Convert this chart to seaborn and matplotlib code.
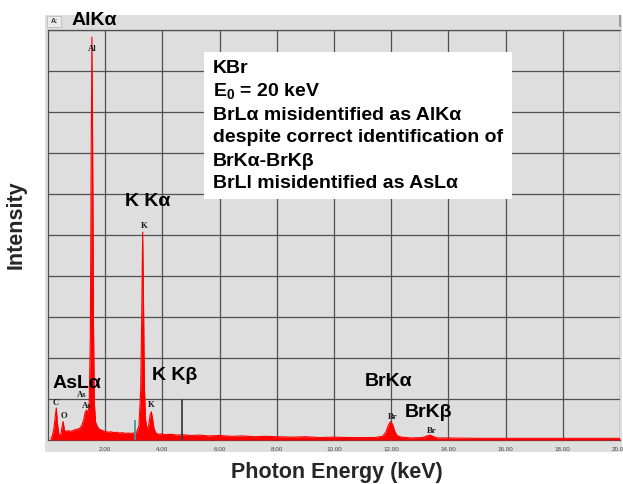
import matplotlib
matplotlib.use("Agg")
import matplotlib.pyplot as plt
import numpy as np
import pandas as pd
import seaborn as sns
from matplotlib.patches import Rectangle

# EDS spectrum of KBr at E0 = 20 keV (intensity in % of full scale)
energy = [0.10, 0.15, 0.20, 0.25, 0.29, 0.33, 0.38, 0.45, 0.50, 0.53,
          0.57, 0.62, 0.70, 0.80, 0.90, 1.00, 1.10, 1.18, 1.25, 1.30,
          1.35, 1.40, 1.44, 1.48, 1.51, 1.535, 1.56, 1.59, 1.62, 1.66,
          1.72, 1.80, 1.90, 2.00, 2.10, 2.20, 2.30, 2.40, 2.50, 2.60,
          2.70, 2.80, 2.90, 3.00, 3.10, 3.18, 3.24, 3.28, 3.31, 3.34,
          3.37, 3.41, 3.47, 3.52, 3.57, 3.61, 3.65, 3.70, 3.76, 3.85,
          3.95, 4.10, 4.30, 4.50, 4.70, 5.00, 5.30, 5.60, 6.00, 6.40,
          6.80, 7.20, 7.60, 8.00, 8.50, 9.00, 9.50, 10.00, 10.50, 11.00,
          11.40, 11.70, 11.82, 11.90, 11.98, 12.05, 12.12, 12.20, 12.35, 12.70,
          13.10, 13.25, 13.36, 13.45, 13.60, 14.00, 15.00, 16.00, 17.00, 18.00,
          19.00, 20.00]
intensity = [0.3, 1.0, 2.5, 5.5, 7.8, 4.0, 1.2, 1.5, 3.5, 4.5,
             2.5, 2.0, 2.3, 2.1, 2.4, 2.6, 2.8, 3.5, 5.0, 6.8,
             7.3, 6.5, 9.0, 25.0, 70.0, 98.3, 72.0, 28.0, 9.0, 4.5,
             3.3, 2.6, 2.3, 2.1, 1.9, 2.0, 1.8, 1.9, 1.7, 1.8,
             1.6, 1.7, 1.6, 1.7, 1.9, 3.5, 12.0, 32.0, 50.7, 33.0,
             13.0, 5.0, 2.5, 3.5, 6.0, 6.9, 5.5, 3.0, 1.8, 1.4,
             1.5, 1.3, 1.4, 1.2, 1.3, 1.1, 1.2, 1.0, 1.1, 0.9,
             1.0, 0.8, 0.9, 0.8, 0.7, 0.8, 0.6, 0.7, 0.6, 0.6,
             0.6, 0.9, 2.0, 3.6, 4.5, 3.8, 2.2, 1.1, 0.7, 0.5,
             0.6, 1.0, 1.2, 0.9, 0.5, 0.5, 0.4, 0.4, 0.4, 0.4,
             0.4, 0.4]

# KLM marker lines
marker_energy = [3.04, 4.69]
marker_height = [4.9, 10.0]
marker_color = ["#3f9a96", "#404040"]

# element symbols written by the analyzer
elem_labels = ["Al", "K", "C", "O", "As", "As", "K", "Br", "Br"]
elem_x = [1.54, 3.36, 0.28, 0.54, 1.18, 1.35, 3.62, 12.04, 13.41]
elem_y = [95.4, 52.3, 9.0, 5.9, 11.0, 8.4, 8.5, 5.7, 2.2]

# peak identifications
peak_labels = ["K Kα", "AsLα", "K Kβ", "BrKα", "BrKβ"]
peak_x = [3.48, 1.01, 4.44, 11.91, 13.29]
peak_y = [58.1, 13.7, 15.7, 14.2, 6.8]

note_lines = ["KBr", r"E$_\mathbf{0}$ = 20 keV", "BrLα misidentified as AlKα",
              "despite correct identification of", "BrKα-BrKβ",
              "BrLl misidentified as AsLα"]

xticks = [2, 4, 6, 8, 10, 12, 14, 16, 18, 20]

sns.set_style("white")
plt.rcParams["font.family"] = ["Liberation Sans", "DejaVu Sans"]
plt.rcParams["mathtext.fontset"] = "custom"
plt.rcParams["mathtext.rm"] = "Liberation Sans:bold"
plt.rcParams["mathtext.it"] = "Liberation Sans:bold"
plt.rcParams["mathtext.bf"] = "Liberation Sans:bold"

W, H = 623, 484
fig = plt.figure(figsize=(W / 100, H / 100), dpi=100)
panel = "#dedede"
big = 14

# gray instrument panel behind the plot
fig.patches.append(Rectangle((45 / W, 1 - 452 / H), 577 / W, 437 / H,
                             transform=fig.transFigure, facecolor=panel,
                             edgecolor="none", zorder=-2))
fig.patches.append(Rectangle((47 / W, 1 - 27 / H), 14 / W, 11 / H,
                             transform=fig.transFigure, facecolor="#ebebeb",
                             edgecolor="#bdbdbd", lw=0.6, zorder=-1))
fig.text(54 / W, 1 - 21.5 / H, "A:", fontsize=5, fontweight="bold",
         ha="center", va="center", color="#333333")
fig.patches.append(Rectangle((619 / W, 1 - 27 / H), 1.5 / W, 12 / H,
                             transform=fig.transFigure, facecolor="#9a9a9a",
                             edgecolor="none", zorder=-1))
fig.text(94.5 / W, 1 - 20.5 / H, "AlKα", fontsize=big, fontweight="bold",
         ha="center", va="center", color="black")

ax = fig.add_axes([48 / W, 1 - 440 / H, 572 / W, 410 / H])
ax.set_zorder(1)
ax.set_facecolor(panel)

df = pd.DataFrame({"Energy": energy, "Intensity": intensity})
ax.fill_between(df["Energy"], df["Intensity"], color="#ff0000", lw=0, zorder=3)
sns.lineplot(data=df, x="Energy", y="Intensity", color="#ff0000", lw=0.8,
             ax=ax, zorder=3)

ax.vlines(marker_energy, 0, marker_height, colors=marker_color, lw=1.3, zorder=4)

for t, x, y in zip(elem_labels, elem_x, elem_y):
    ax.text(x, y, t, fontsize=6.2, family="Liberation Serif", fontweight="bold",
            ha="center", va="center", color="#1a1a1a", zorder=5)

for t, x, y in zip(peak_labels, peak_x, peak_y):
    ax.text(x, y, t, fontsize=big, fontweight="bold", ha="center",
            va="center", color="black", zorder=6)

# annotation box
bx0, bx1 = (204 - 48) / 572, (512 - 48) / 572
by0, by1 = (440 - 199) / 410, (440 - 51.7) / 410
ax.add_patch(Rectangle((bx0, by0), bx1 - bx0, by1 - by0, transform=ax.transAxes,
                       facecolor="white", edgecolor="none", zorder=5))
baselines = [73.3, 96.0, 119.5, 142.5, 165.5, 188.5]
for t, py in zip(note_lines, baselines):
    ax.text((212.7 - 48) / 572, (440 - py) / 410, t, transform=ax.transAxes,
            fontsize=big, fontweight="bold", ha="left", va="baseline",
            color="black", zorder=6)

ax.set_xlim(0, 20)
ax.set_ylim(0, 100)
ax.set_xticks(xticks)
ax.set_xticklabels([f"{v:.2f}" for v in xticks])
ax.set_yticks(np.arange(0, 101, 10))
ax.set_yticklabels([])
ax.grid(True, color="#505050", lw=0.9, zorder=1)
ax.set_axisbelow(True)
ax.tick_params(length=0, labelsize=4.5, labelcolor="#444444", pad=5)
for s in ax.spines.values():
    s.set_color("#505050")
    s.set_linewidth(0.9)
ax.spines["right"].set_visible(False)

ax.set_xlabel("Photon Energy (keV)", fontsize=15.5, fontweight="bold")
ax.set_ylabel("Intensity", fontsize=15.5, fontweight="bold")
ax.xaxis.set_label_coords((337 - 48) / 572, (440 - 462) / 410)
ax.yaxis.set_label_coords((27 - 48) / 572, (440 - 225) / 410)

fig.savefig("out.png", dpi=100)
